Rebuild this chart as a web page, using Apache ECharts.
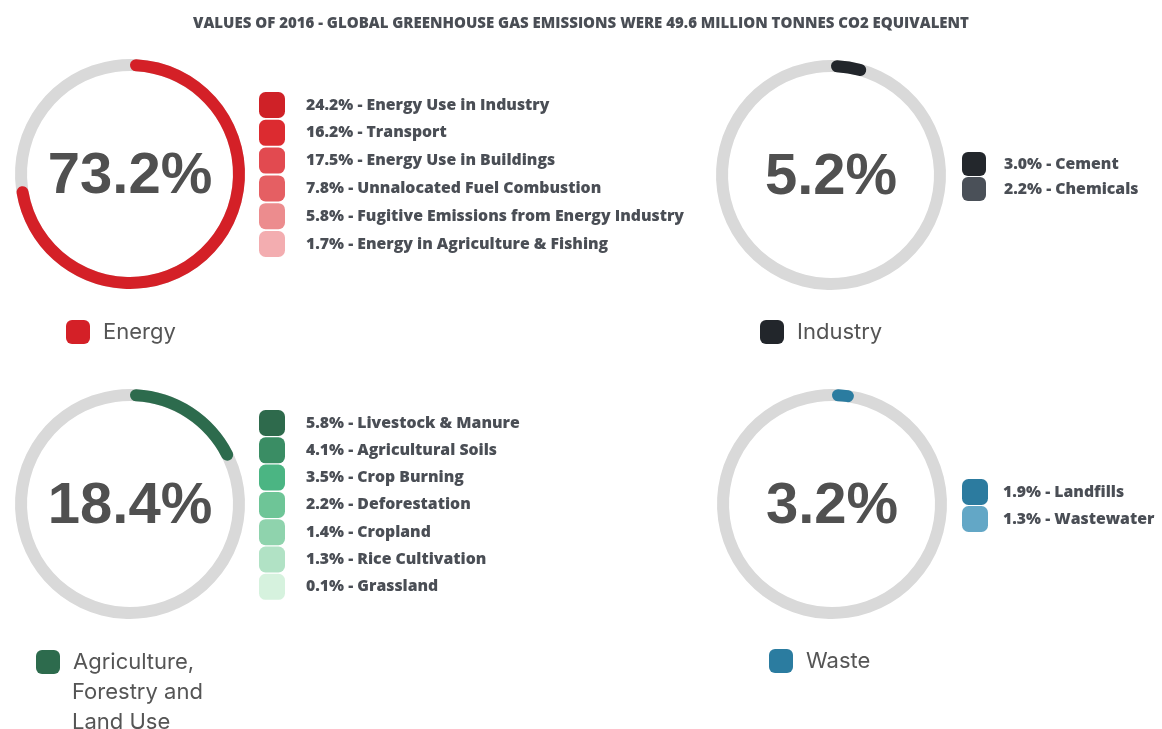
<!DOCTYPE html>
<html>
<head>
<meta charset="utf-8">
<script src="https://cdn.jsdelivr.net/npm/echarts@6/dist/echarts.min.js"></script>
<style>
  html, body { margin: 0; padding: 0; background: #fff; }
  #chart { width: 1162px; height: 729px; }
</style>
</head>
<body>
<div id="chart"></div>
<script>
// sector totals are the sum of their parts
var energyNames = ['Energy Use in Industry', 'Transport', 'Energy Use in Buildings', 'Unnalocated Fuel Combustion', 'Fugitive Emissions from Energy Industry', 'Energy in Agriculture & Fishing'];
var energyValues = [24.2, 16.2, 17.5, 7.8, 5.8, 1.7];
var energyColors = ['#cf2127', '#dc2b30', '#e24a50', '#e55f63', '#ec8c8e', '#f3adb0'];

var industryNames = ['Cement', 'Chemicals'];
var industryValues = [3.0, 2.2];
var industryColors = ['#23272c', '#4a5058'];

var agriNames = ['Livestock & Manure', 'Agricultural Soils', 'Crop Burning', 'Deforestation', 'Cropland', 'Rice Cultivation', 'Grassland'];
var agriValues = [5.8, 4.1, 3.5, 2.2, 1.4, 1.3, 0.1];
var agriColors = ['#2e6a4c', '#3a8d64', '#4bb583', '#6ec597', '#8fd3ad', '#b1e2c5', '#d6f2de'];

var wasteNames = ['Landfills', 'Wastewater'];
var wasteValues = [1.9, 1.3];
var wasteColors = ['#2c7b9f', '#63a7c6'];

var sectorNames = ['Energy', 'Industry', 'Agriculture, Forestry and Land Use', 'Waste'];
var sectorLabels = ['Energy', 'Industry', 'Agriculture,', 'Waste'];
var agriLabelRest = 'Forestry and\nLand Use';
var sectorColors = ['#d42027', '#22262b', '#2d6b4d', '#2b7ca0'];

var titleText = 'VALUES OF 2016 - GLOBAL GREENHOUSE GAS EMISSIONS WERE 49.6 MILLION TONNES CO2 EQUIVALENT';

var textColor = '#4a4e55';
var ringGray = '#d9d9d9';

// ring geometry: the round caps sit inside the value, so shift the scale by half a cap on each end
var ringRadius = 115;
var ringWidth = 12;
var capDeg = (ringWidth / 2) / (ringRadius - ringWidth / 2) * 180 / Math.PI;

// layout of the four blocks
var blocks = [
    { names: energyNames, values: energyValues, colors: energyColors, center: [130, 174], subPos: [259, 92], subSize: 26, subGap: 1.8, subPad: 16, labelPos: [66, 317] },
    { names: industryNames, values: industryValues, colors: industryColors, center: [831, 175], subPos: [962, 152], subSize: 24, subGap: 1, subPad: 13, labelPos: [760, 317] },
    { names: agriNames, values: agriValues, colors: agriColors, center: [130, 504], subPos: [259, 410], subSize: 26, subGap: 1.3, subPad: 16, labelPos: [36, 647] },
    { names: wasteNames, values: wasteValues, colors: wasteColors, center: [832, 504], subPos: [962, 479], subSize: 26, subGap: 1, subPad: 10, labelPos: [769, 646] }
];

function sum(arr) {
    var s = 0;
    for (var i in arr) s += arr[i];
    return Math.round(s * 10) / 10;
}

var series = [];
var legends = [];

for (var b = 0; b < blocks.length; b++) {
    var blk = blocks[b];
    var total = sum(blk.values);

    // ring with the sector share
    series.push({
        type: 'gauge',
        name: sectorNames[b],
        center: blk.center,
        radius: ringRadius,
        startAngle: 90 - capDeg,
        endAngle: -270 - capDeg,
        min: capDeg * 2 / 3.6,
        max: 100 + capDeg * 2 / 3.6,
        itemStyle: { color: sectorColors[b] },
        progress: { show: true, roundCap: true, width: ringWidth, itemStyle: { color: sectorColors[b] } },
        axisLine: { lineStyle: { width: ringWidth, color: [[1, ringGray]] } },
        axisTick: { show: false },
        splitLine: { show: false },
        axisLabel: { show: false },
        pointer: { show: false },
        anchor: { show: false },
        title: { show: false },
        detail: {
            offsetCenter: [0, 3],
            fontFamily: 'Liberation Sans',
            fontWeight: 'bold',
            fontSize: 58,
            color: '#505050',
            formatter: function (v) { return v.toFixed(1) + '%'; }
        },
        data: [{ value: total, name: sectorNames[b] }]
    });

    // breakdown, only used to feed the legend
    var pieData = [];
    for (var i = 0; i < blk.names.length; i++) {
        pieData.push({ name: blk.names[i], value: blk.values[i], itemStyle: { color: blk.colors[i] } });
    }
    series.push({
        type: 'pie',
        name: sectorNames[b] + ' detail',
        center: [-200, -200],
        radius: [0, 0],
        silent: true,
        label: { show: false },
        labelLine: { show: false },
        data: pieData
    });

    (function (blk) {
        legends.push({
            orient: 'vertical',
            left: blk.subPos[0],
            top: blk.subPos[1],
            padding: 0,
            itemWidth: blk.subSize,
            itemHeight: blk.subSize,
            itemGap: blk.subGap,
            icon: 'roundRect',
            selectedMode: false,
            data: blk.names.map(function (n, k) { return { name: n, itemStyle: { color: blk.colors[k] } }; }),
            formatter: function (name) {
                var k = blk.names.indexOf(name);
                return blk.values[k].toFixed(1) + '% - ' + name;
            },
            textStyle: {
                fontFamily: 'Open Sans',
                fontWeight: 800,
                fontSize: 15.8,
                color: textColor,
                padding: [0, 0, 0, blk.subPad]
            }
        });
    })(blk);

    // sector name below the ring
    (function (b) {
        legends.push({
            left: blocks[b].labelPos[0],
            top: blocks[b].labelPos[1],
            padding: 0,
            itemWidth: 24,
            itemHeight: 24,
            icon: 'roundRect',
            selectedMode: false,
            data: [{ name: sectorNames[b], itemStyle: { color: sectorColors[b] } }],
            formatter: function () { return sectorLabels[b]; },
            textStyle: {
                fontFamily: 'Inter',
                fontSize: 22,
                lineHeight: 30,
                color: '#555555',
                padding: [0, 0, 0, 8]
            }
        });
    })(b);
}

var myChart = echarts.init(document.getElementById('chart'));
myChart.setOption({
    animation: false,
    title: [{
        text: titleText,
        left: 'center',
        top: 11,
        textStyle: { fontFamily: 'Open Sans', fontWeight: 800, fontSize: 15, color: textColor }
    }, {
        // rest of the wrapped agriculture label
        text: agriLabelRest,
        left: 67,
        top: 672,
        textStyle: { fontFamily: 'Inter', fontWeight: 'normal', fontSize: 22, lineHeight: 30, color: '#555555' }
    }],
    legend: legends,
    series: series
});
</script>
</body>
</html>
